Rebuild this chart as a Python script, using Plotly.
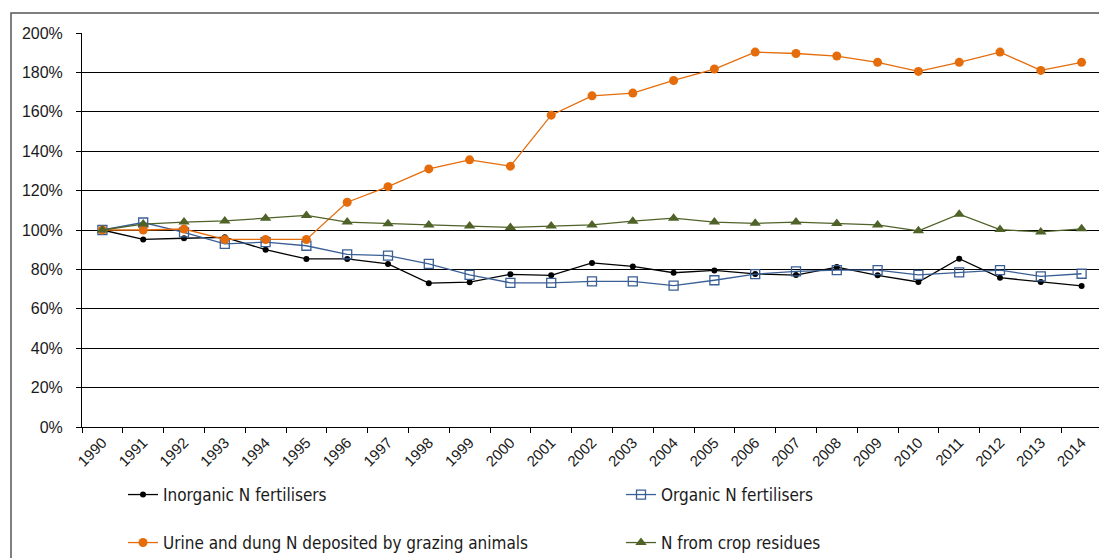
import plotly.graph_objects as go

years = [str(y) for y in range(1990, 2015)]

inorganic = [100, 95.2, 95.8, 96.3, 90.0, 85.3, 85.3, 82.8, 73.0, 73.5, 77.5, 77.0, 83.3,
             81.5, 78.3, 79.5, 77.7, 77.1, 81.2, 77.0, 73.6, 85.4, 75.8, 73.6, 71.6]
organic = [100, 103.8, 98.8, 93.0, 93.8, 92.0, 87.6, 87.0, 82.8, 77.2, 73.2, 73.2, 73.9,
           73.9, 71.8, 74.5, 77.6, 79.0, 79.6, 79.6, 77.2, 78.5, 79.6, 76.5, 77.8]
urine = [100, 100, 100.5, 95.2, 95.2, 95.2, 114.1, 122.0, 131.0, 135.6, 132.4, 158.3, 168.1,
         169.5, 175.9, 181.7, 190.3, 189.6, 188.3, 185.1, 180.5, 185.1, 190.3, 181.0, 185.1]
residues = [100, 103.0, 104.0, 104.6, 106.0, 107.4, 104.0, 103.2, 102.6, 102.0, 101.3, 102.0,
            102.6, 104.5, 106.0, 104.0, 103.4, 104.0, 103.3, 102.6, 99.6, 108.0, 100.2, 99.0, 100.6]

yticks = [0, 20, 40, 60, 80, 100, 120, 140, 160, 180, 200]
ytick_labels = [f"{v}%" for v in yticks]

FONT_NARROW = "'Liberation Sans Narrow', 'DejaVu Sans Condensed', sans-serif"
FONT_TICK = "'Liberation Sans', Arial, sans-serif"

W, H = 1099, 550

fig = go.Figure()
fig.add_trace(go.Scatter(x=years, y=inorganic, name="Inorganic N fertilisers", mode="lines+markers",
                         line=dict(color="#000000", width=1.3),
                         marker=dict(symbol="circle", size=6, color="#000000"), legend="legend"))
fig.add_trace(go.Scatter(x=years, y=organic, name="Organic N fertilisers", mode="lines+markers",
                         line=dict(color="#3A5F95", width=1.3),
                         marker=dict(symbol="square-open", size=9, color="#3A5F95", line=dict(width=1.3)),
                         legend="legend"))
fig.add_trace(go.Scatter(x=years, y=urine, name="Urine and dung N deposited by grazing animals",
                         mode="lines+markers", line=dict(color="#E46C0A", width=1.3),
                         marker=dict(symbol="circle", size=9, color="#E46C0A"), legend="legend2"))
fig.add_trace(go.Scatter(x=years, y=residues, name="N from crop residues", mode="lines+markers",
                         line=dict(color="#4F6228", width=1.3),
                         marker=dict(symbol="triangle-up", size=10, color="#4F6228"), legend="legend2"))

legend_common = dict(orientation="h", xref="container", yref="container", xanchor="left",
                     yanchor="middle", entrywidth=453, entrywidthmode="pixels",
                     font=dict(family=FONT_NARROW, size=17, color="#1a1a1a"), bgcolor="rgba(0,0,0,0)",
                     itemclick=False, itemwidth=30)

fig.update_layout(
    width=W, height=H,
    margin=dict(l=74, r=5, t=25, b=131),
    paper_bgcolor="white", plot_bgcolor="white",
    font=dict(family=FONT_TICK, size=15, color="#1a1a1a"),
    legend=dict(x=115 / W, y=1 - 487 / H, **legend_common),
    legend2=dict(x=115 / W, y=1 - 535 / H, **legend_common),
    xaxis=dict(type="category", tickangle=-45, tickson="boundaries", ticks="outside", ticklen=5,
               tickcolor="#000000", showline=True, linecolor="#000000", linewidth=1,
               showgrid=False, tickfont=dict(family=FONT_TICK, size=15, color="#1a1a1a"),
               range=[-0.5, 24.5]),
    yaxis=dict(range=[0, 200], tickvals=yticks, ticktext=ytick_labels, ticks="outside", ticklen=5,
               tickcolor="#000000", showline=True, linecolor="#000000", linewidth=1,
               showgrid=True, gridcolor="#000000", gridwidth=1, zeroline=False,
               ticklabelstandoff=10,
               tickfont=dict(family=FONT_TICK, size=16, color="#1a1a1a")),
    shapes=[dict(type="rect", xref="paper", yref="paper",
                 x0=-71 / 1020, x1=1.2, y0=-1.0, y1=1 + 20 / 394,
                 line=dict(color="#555555", width=1.5), fillcolor="rgba(0,0,0,0)", layer="below")],
)

fig.write_html("out.html")
